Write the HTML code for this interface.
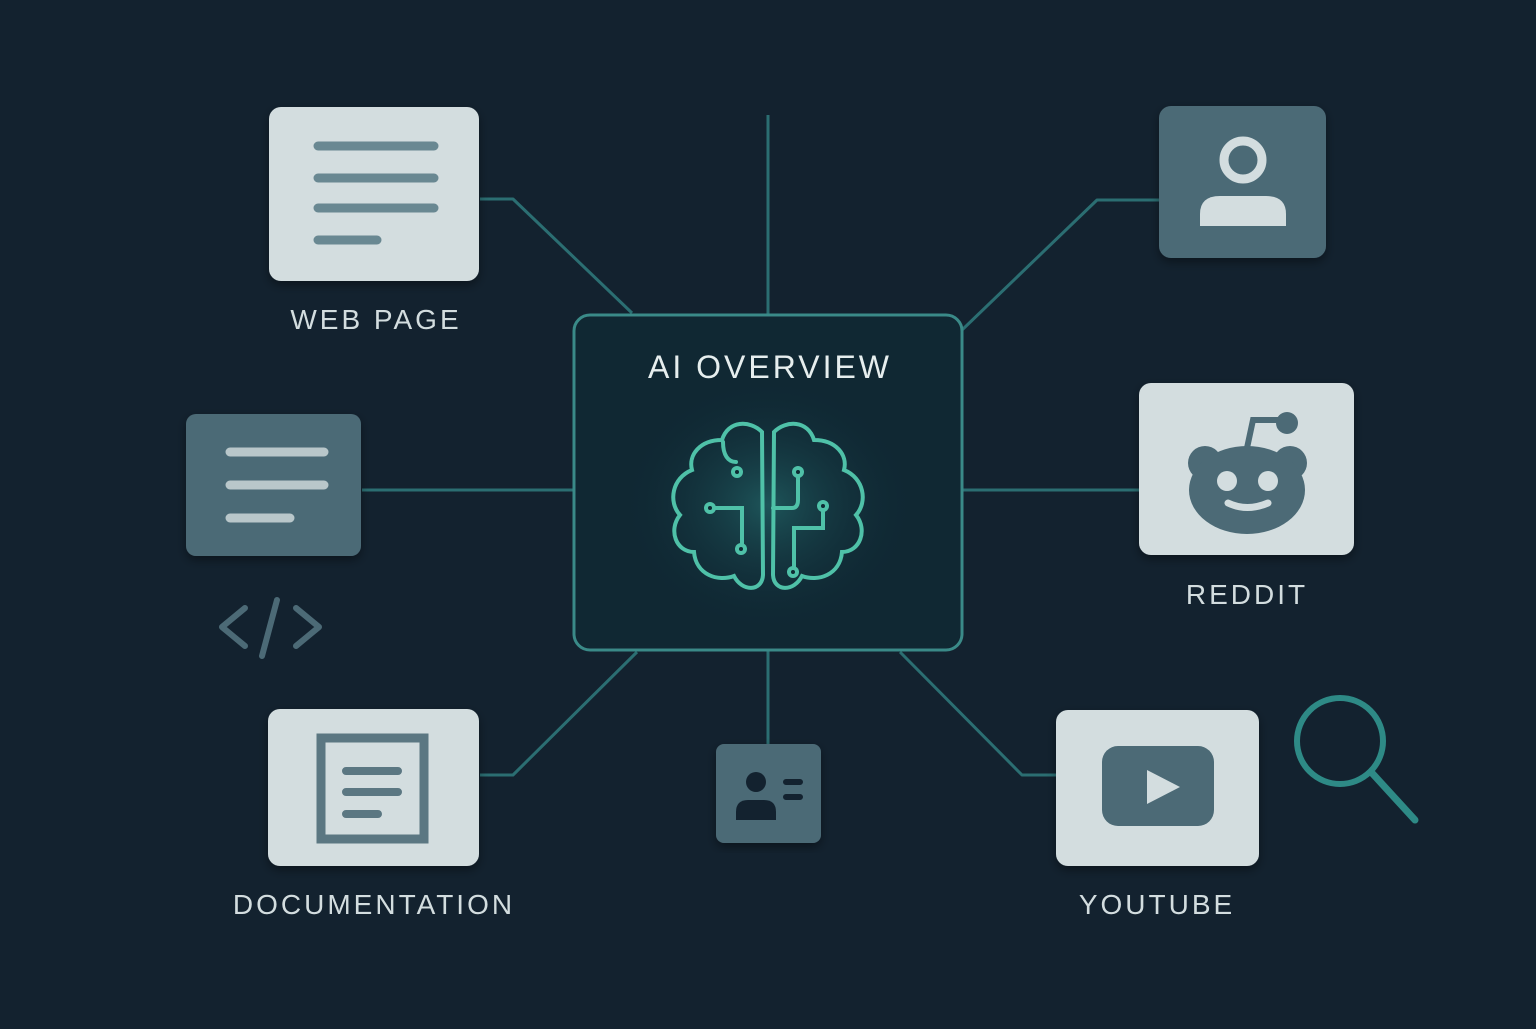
<!DOCTYPE html>
<html><head><style>
body{margin:0;width:1536px;height:1024px;background:#13222f;overflow:hidden;font-family:"Liberation Sans",sans-serif}
</style></head><body>
<svg width="1536" height="1024" viewBox="0 0 1536 1024" xmlns="http://www.w3.org/2000/svg">
<defs>
<radialGradient id="g" cx="0.5" cy="0.5" r="0.5"><stop offset="0" stop-color="#1f5a5e" stop-opacity="0.9"/><stop offset="1" stop-color="#0f2633" stop-opacity="0"/></radialGradient>
<filter id="sh"><feDropShadow dx="0" dy="4" stdDeviation="5" flood-color="#000" flood-opacity="0.4"/></filter>
</defs>
<rect width="1536" height="1024" fill="#13222f"/>
<g stroke="#2b6e72" stroke-width="3" fill="none" stroke-linejoin="round">
<path d="M480 199 H513 L632 313"/>
<path d="M768 115 V315"/>
<path d="M962 330 L1097 200 H1159"/>
<path d="M362 490 H574"/>
<path d="M962 490 H1139"/>
<path d="M637 652 L513 775 H480"/>
<path d="M768 650 V744"/>
<path d="M900 652 L1022 775 H1056"/>
</g>
<!-- center -->
<rect x="574" y="315" width="388" height="335" rx="16" fill="#10273333" stroke="#3a8a88" stroke-width="3"/>
<rect x="576" y="317" width="384" height="331" rx="14" fill="#102833"/>
<ellipse cx="768" cy="505" rx="150" ry="130" fill="url(#g)"/>
<text x="770" y="378" text-anchor="middle" fill="#e6eeee" font-size="32" letter-spacing="3">AI OVERVIEW</text>
<g stroke="#4fc1a8" stroke-width="4" fill="none" stroke-linecap="round">
<path d="M762 432 C750 420 728 420 722 440 C700 440 688 455 692 470 C672 478 668 502 680 515 C668 530 676 552 694 552 C696 575 718 582 734 576 C742 592 762 592 763 575 Z"/>
<path d="M774 432 C786 420 808 420 814 440 C836 440 848 455 844 470 C864 478 868 502 856 515 C868 530 860 552 842 552 C840 575 818 582 802 576 C794 592 774 592 773 575 Z"/>
<path d="M723 442 C723 455 728 462 736 462"/>
<path d="M710 508 H742 V548"/>
<path d="M773 508 H792 Q798 508 798 500 V473"/>
<path d="M823 505 V528 H794 V571"/>
</g>
<g fill="#4fc1a8"><circle cx="737" cy="472" r="6"/><circle cx="710" cy="508" r="6"/><circle cx="741" cy="549" r="6"/><circle cx="798" cy="472" r="6"/><circle cx="823" cy="506" r="6"/><circle cx="793" cy="572" r="6"/></g>
<g fill="#0f2a33"><circle cx="737" cy="472" r="2"/><circle cx="710" cy="508" r="2"/><circle cx="741" cy="549" r="2"/><circle cx="798" cy="472" r="2"/><circle cx="823" cy="506" r="2"/><circle cx="793" cy="572" r="2"/></g>
<!-- web page -->
<rect x="269" y="107" width="210" height="174" rx="12" fill="#d3dddf" filter="url(#sh)"/>
<g stroke="#698892" stroke-width="9" stroke-linecap="round"><path d="M318 146H434M318 178H434M318 208H434M318 240H377"/></g>
<text x="376" y="329" text-anchor="middle" fill="#d3dddf" font-size="28" letter-spacing="3">WEB PAGE</text>
<!-- person -->
<rect x="1159" y="106" width="167" height="152" rx="12" fill="#4c6a76" filter="url(#sh)"/>
<circle cx="1243" cy="160" r="19" fill="none" stroke="#d3dddf" stroke-width="9"/>
<path d="M1200 226 V214 Q1200 196 1220 196 H1266 Q1286 196 1286 214 V226 Z" fill="#d3dddf"/>
<!-- left dark -->
<rect x="186" y="414" width="175" height="142" rx="10" fill="#4c6a76" filter="url(#sh)"/>
<g stroke="#b9c7ca" stroke-width="9" stroke-linecap="round"><path d="M230 452H324M230 485H324M230 518H290"/></g>
<g stroke="#4c6a76" stroke-width="6" fill="none" stroke-linecap="round" stroke-linejoin="round"><path d="M245 608 L222 627 L245 646"/><path d="M296 608 L319 627 L296 646"/><path d="M277 600 L262 656"/></g>
<!-- reddit -->
<rect x="1139" y="383" width="215" height="172" rx="12" fill="#d3dddf" filter="url(#sh)"/>
<g fill="#4c6a76">
<circle cx="1205" cy="463" r="17"/><circle cx="1290" cy="463" r="17"/>
<ellipse cx="1247" cy="490" rx="58" ry="44"/>
<circle cx="1287" cy="423" r="11"/>
</g>
<path d="M1247 448 L1253 420 H1284" stroke="#4c6a76" stroke-width="6" fill="none"/>
<circle cx="1227" cy="481" r="10" fill="#d3dddf"/><circle cx="1268" cy="481" r="10" fill="#d3dddf"/>
<path d="M1228 503 Q1247 512 1268 503" stroke="#d3dddf" stroke-width="7" fill="none" stroke-linecap="round"/>
<text x="1247" y="604" text-anchor="middle" fill="#d3dddf" font-size="28" letter-spacing="3">REDDIT</text>
<!-- documentation -->
<rect x="268" y="709" width="211" height="157" rx="12" fill="#d3dddf" filter="url(#sh)"/>
<rect x="321" y="738" width="103" height="101" fill="none" stroke="#5b7782" stroke-width="9"/>
<g stroke="#5b7782" stroke-width="8" stroke-linecap="round"><path d="M346 771H398M346 792H398M346 814H378"/></g>
<text x="374" y="914" text-anchor="middle" fill="#d3dddf" font-size="28" letter-spacing="3">DOCUMENTATION</text>
<!-- contact card -->
<rect x="716" y="744" width="105" height="99" rx="8" fill="#4c6a76" filter="url(#sh)"/>
<circle cx="756" cy="782" r="10" fill="#13222f"/>
<path d="M736 820 V812 Q736 800 748 800 H764 Q776 800 776 812 V820 Z" fill="#13222f"/>
<g stroke="#13222f" stroke-width="6" stroke-linecap="round"><path d="M786 782H800M786 797H800"/></g>
<!-- youtube -->
<rect x="1056" y="710" width="203" height="156" rx="12" fill="#d3dddf" filter="url(#sh)"/>
<rect x="1102" y="746" width="112" height="80" rx="16" fill="#4c6a76"/>
<path d="M1147 770 L1180 787 L1147 804 Z" fill="#d3dddf"/>
<text x="1157" y="914" text-anchor="middle" fill="#d3dddf" font-size="28" letter-spacing="3">YOUTUBE</text>
<!-- magnifier -->
<circle cx="1340" cy="741" r="43" fill="none" stroke="#2e8a86" stroke-width="6"/>
<path d="M1372 773 L1415 820" stroke="#2e8a86" stroke-width="7" stroke-linecap="round"/>
</svg>
</body></html>
